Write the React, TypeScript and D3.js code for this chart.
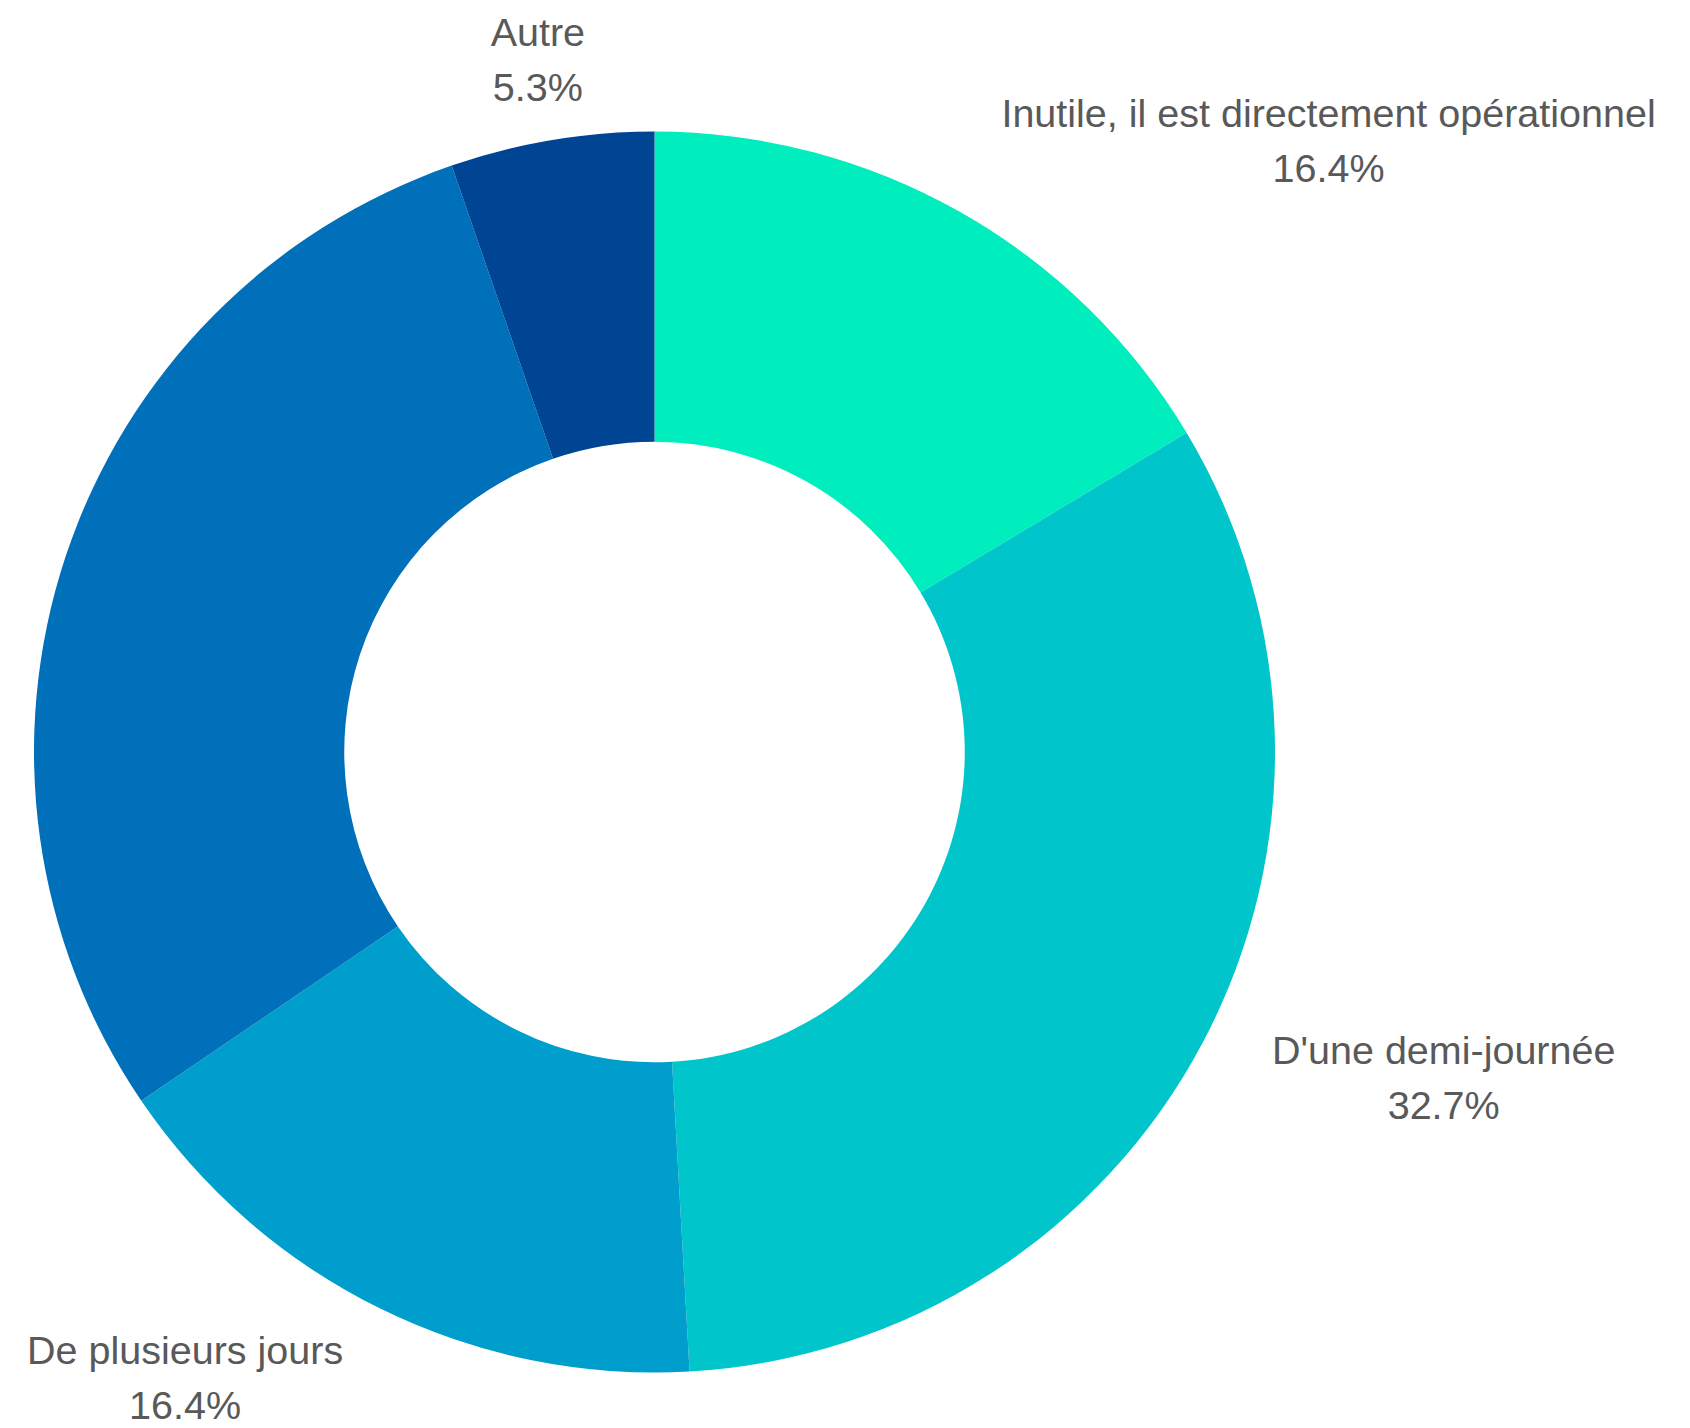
import { useEffect, useRef } from 'react'
import * as d3 from 'd3'

// slice order is clockwise from 12 o'clock; the big dark slice carries no label in the source
const categories = [
  'Inutile, il est directement opérationnel',
  "D'une demi-journée",
  'De plusieurs jours',
  '',
  'Autre',
]
const values = [16.4, 32.7, 16.4, 29.2, 5.3]
const colors = ['#00EDBD', '#00C6CB', '#009ECC', '#0070BA', '#004494']

const width = 1690
const height = 1428

interface Slice {
  label: string
  value: number
  color: string
}

export default function App() {
  const svgRef = useRef<SVGSVGElement>(null)

  useEffect(() => {
    if (!svgRef.current) return
    const svg = d3.select(svgRef.current)
    svg.selectAll('*').remove()

    const data: Slice[] = categories.map((label, i) => ({
      label,
      value: values[i],
      color: colors[i],
    }))

    const cx = 654.5
    const cy = 752
    const radius = 620.5
    const innerRadius = radius * 0.5
    const labelRadius = radius * 1.115

    const g = svg.append('g').attr('transform', `translate(${cx},${cy})`)

    const pie = d3
      .pie<Slice>()
      .value((d) => d.value)
      .sort(null)

    const arc = d3
      .arc<d3.PieArcDatum<Slice>>()
      .innerRadius(innerRadius)
      .outerRadius(radius)

    const arcs = pie(data)

    g.selectAll('.slice')
      .data(arcs)
      .enter()
      .append('path')
      .attr('class', 'slice')
      .attr('d', arc)
      .attr('fill', (d) => d.data.color)

    const total = d3.sum(values)

    // Labels: anchored on the mid-angle ray, pushed outward depending on side
    arcs
      .filter((d) => d.data.label !== '')
      .forEach((d) => {
        const mid = (d.startAngle + d.endAngle) / 2
        const ax = Math.sin(mid) * labelRadius
        const ay = -Math.cos(mid) * labelRadius

        const lg = g.append('g')
        const lines = [d.data.label, `${((d.data.value / total) * 100).toFixed(1)}%`]
        lines.forEach((line, i) => {
          lg.append('text')
            .attr('x', 0)
            .attr('y', i * 55)
            .attr('text-anchor', 'middle')
            .attr('fill', '#595959')
            .attr('font-family', '"Liberation Sans", Arial, sans-serif')
            .attr('font-size', '39.5px')
            .text(line)
        })

        const box = (lg.node() as SVGGElement).getBBox()
        const s = Math.sin(mid)
        let tx: number
        if (Math.abs(s) < 0.3) {
          tx = ax - 2
        } else if (s > 0) {
          tx = ax + 6 + box.width / 2
        } else {
          tx = ax - 5 - box.width / 2
        }
        const ty = ay - 15.5 - 8.5 * Math.cos(mid)
        lg.attr('transform', `translate(${tx},${ty})`)
      })
  }, [])

  return (
    <div style={{ position: 'absolute', left: 0, top: 0, background: '#fff' }}>
      <svg ref={svgRef} width={width} height={height} style={{ display: 'block' }} />
    </div>
  )
}
